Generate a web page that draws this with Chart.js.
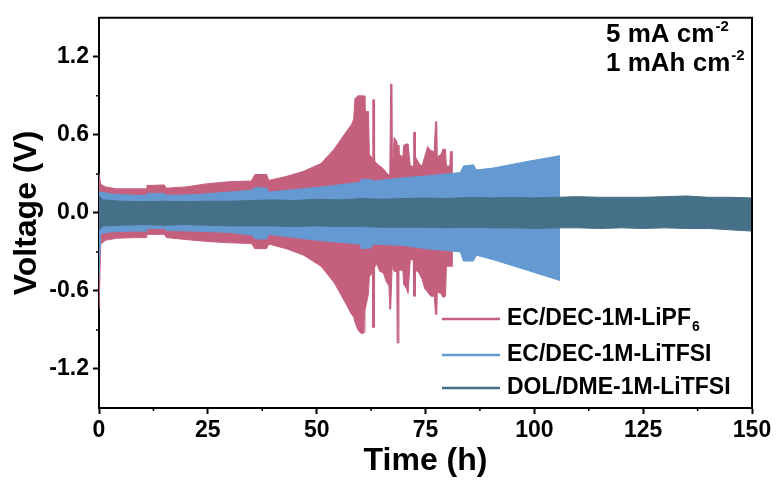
<!DOCTYPE html>
<html lang="en">
<head>
<meta charset="UTF-8">
<title>Voltage vs Time</title>
<script src="https://cdn.jsdelivr.net/npm/chart.js@4.4.1/dist/chart.umd.min.js"></script>
<style>
    html, body { margin: 0; padding: 0; background: #fff; }
    .chart-box { width: 776px; height: 483px; position: relative; }
</style>
</head>
<body>
<div class="chart-box"><canvas id="myChart"></canvas></div>
<script>
// Подписи осей
const xTicks = [0, 25, 50, 75, 100, 125, 150];
const yTicks = [-1.2, -0.6, 0, 0.6, 1.2];

const seriesNames = ['EC/DEC-1M-LiPF', 'EC/DEC-1M-LiTFSI', 'DOL/DME-1M-LiTFSI'];

// EC/DEC-1M-LiPF6 — огибающая (верх / низ)
const lipf6Time = [0, 0.4, 1.5, 4, 8, 10.8, 11, 15, 15.5, 20, 25, 30, 35, 35.8, 38.5, 39, 43, 47, 51, 54, 56.5, 58,
    58.5, 58.8, 59.5, 60.3, 60.9, 61.1, 61.9, 62.1, 62.8, 62.9, 63.2, 63.3, 63.8, 64.5, 65.3, 66.0, 66.6, 66.8,
    67.0, 67.3, 67.4, 67.8, 68.4, 68.5, 68.8, 68.9, 69.8, 70.0, 70.6, 71.0, 71.5, 72.2, 72.3, 72.6, 72.7, 73.5,
    74.2, 74.8, 75.5, 76.2, 77.0, 77.3, 77.6, 77.7, 78.6, 79.0, 79.6, 79.8, 80.6, 80.7, 81.3];
const lipf6Upper = [0.30, 0.22, 0.20, 0.185, 0.185, 0.185, 0.21, 0.215, 0.19, 0.20, 0.225, 0.24, 0.245, 0.295, 0.295, 0.25, 0.28, 0.32, 0.38, 0.49, 0.61, 0.68,
    0.72, 0.88, 0.90, 0.90, 0.90, 0.78, 0.78, 0.45, 0.42, 0.87, 0.87, 0.40, 0.38, 0.36, 0.34, 0.31, 0.29, 0.30,
    0.99, 0.99, 0.32, 0.58, 0.55, 0.52, 0.52, 0.45, 0.43, 0.52, 0.53, 0.53, 0.36, 0.36, 0.62, 0.62, 0.43, 0.38,
    0.36, 0.43, 0.51, 0.48, 0.47, 0.70, 0.70, 0.43, 0.45, 0.49, 0.49, 0.36, 0.36, 0.47, 0.47];
const lipf6Lower = [-0.74, -0.24, -0.21, -0.195, -0.19, -0.19, -0.165, -0.165, -0.19, -0.205, -0.22, -0.23, -0.235, -0.275, -0.275, -0.24, -0.275, -0.325, -0.41, -0.535, -0.685, -0.78,
    -0.80, -0.84, -0.90, -0.93, -0.92, -0.75, -0.62, -0.49, -0.46, -0.88, -0.88, -0.42, -0.39, -0.45, -0.46, -0.53, -0.56, -0.74,
    -0.74, -0.45, -0.40, -0.45, -0.45, -1.00, -1.00, -0.44, -0.44, -0.55, -0.58, -0.62, -0.36, -0.36, -0.64, -0.64, -0.44, -0.46,
    -0.51, -0.58, -0.61, -0.64, -0.64, -0.78, -0.78, -0.61, -0.62, -0.65, -0.64, -0.41, -0.41, -0.41, -0.41];

// EC/DEC-1M-LiTFSI
const litfsiTime = [0, 0.4, 3, 8, 10.8, 11, 15, 15.5, 22, 30, 35, 36, 38.5, 39, 45, 50, 55, 60, 60.3, 62.5, 63, 70, 75, 80, 83, 83.7, 86, 86.7, 90.6, 98.3, 105.9];
const litfsiUpper = [0.16, 0.16, 0.145, 0.135, 0.135, 0.15, 0.15, 0.135, 0.14, 0.16, 0.175, 0.195, 0.19, 0.16, 0.18, 0.196, 0.215, 0.235, 0.26, 0.255, 0.245, 0.27, 0.283, 0.30, 0.31, 0.36, 0.37, 0.33, 0.345, 0.395, 0.44];
const litfsiLower = [-0.50, -0.16, -0.145, -0.14, -0.14, -0.12, -0.12, -0.135, -0.14, -0.15, -0.17, -0.20, -0.20, -0.165, -0.19, -0.21, -0.225, -0.24, -0.275, -0.27, -0.24, -0.25, -0.275, -0.29, -0.30, -0.37, -0.37, -0.325, -0.36, -0.44, -0.52];

// DOL/DME-1M-LiTFSI
const dolTime = [0, 1, 5, 10, 15, 20, 25, 30, 35, 40, 45, 50, 55, 60, 65, 70, 75, 80, 85, 90, 95, 100, 105, 110, 115, 120, 125, 130, 135, 140, 145, 150];
const dolUpper = [0.13, 0.10, 0.09, 0.085, 0.09, 0.085, 0.09, 0.09, 0.095, 0.10, 0.095, 0.105, 0.10, 0.11, 0.105, 0.11, 0.115, 0.11, 0.12, 0.115, 0.12, 0.115, 0.12, 0.125, 0.12, 0.12, 0.12, 0.125, 0.13, 0.12, 0.12, 0.115];
const dolLower = [-0.13, -0.10, -0.095, -0.09, -0.095, -0.09, -0.095, -0.10, -0.10, -0.10, -0.105, -0.10, -0.105, -0.105, -0.11, -0.11, -0.11, -0.115, -0.11, -0.115, -0.115, -0.12, -0.115, -0.115, -0.12, -0.115, -0.12, -0.115, -0.12, -0.12, -0.13, -0.14];

const FONT = '"Liberation Sans", Arial, sans-serif';
const colors = ['#C4607E', '#6499D2', '#466F88'];

function toPoints(time, values) {
    return time.map((t, i) => ({x: t, y: values[i]}));
}

// верхняя линия заливается до нижней ('+1')
function band(label, color, time, upper, lower) {
    return [
        {label: label, data: toPoints(time, upper), borderColor: color, backgroundColor: color,
            borderWidth: 1, pointRadius: 0, tension: 0, fill: '+1'},
        {label: label + ' low', data: toPoints(time, lower), borderColor: color, backgroundColor: color,
            borderWidth: 1, pointRadius: 0, tension: 0, fill: false}
    ];
}

const frame = {
    id: 'frame',
    afterDraw(chart) {
        const {ctx, chartArea: a} = chart;
        ctx.save();
        ctx.strokeStyle = '#000';
        ctx.lineWidth = 2;
        ctx.beginPath();
        ctx.moveTo(a.left, a.top);
        ctx.lineTo(a.right, a.top);
        ctx.lineTo(a.right, a.bottom);
        ctx.stroke();

        // малые деления между основными
        const xs = chart.scales.x, ys = chart.scales.y;
        ctx.lineWidth = 1.5;
        ctx.beginPath();
        for (let i = 0; i < xTicks.length - 1; i++) {
            const px = xs.getPixelForValue((xTicks[i] + xTicks[i + 1]) / 2);
            ctx.moveTo(px, a.bottom);
            ctx.lineTo(px, a.bottom + 3);
        }
        for (let i = 0; i < yTicks.length - 1; i++) {
            const py = ys.getPixelForValue((yTicks[i] + yTicks[i + 1]) / 2);
            ctx.moveTo(a.left, py);
            ctx.lineTo(a.left - 3, py);
        }
        ctx.stroke();
        ctx.restore();
    }
};

const notes = {
    id: 'notes',
    afterDraw(chart) {
        const ctx = chart.ctx;
        ctx.save();
        ctx.fillStyle = '#000';
        ctx.textBaseline = 'alphabetic';

        // плотность тока / ёмкость
        const lines = ['5 mA cm', '1 mAh cm'];
        const baselines = [42, 71];
        lines.forEach((txt, i) => {
            ctx.font = 'bold 26px ' + FONT;
            ctx.fillText(txt, 606, baselines[i]);
            const w = ctx.measureText(txt).width;
            ctx.font = 'bold 15px ' + FONT;
            ctx.fillText('-2', 606 + w + 1, baselines[i] - 11);
        });

        // легенда
        const rows = [319, 355, 388];
        seriesNames.forEach((name, i) => {
            ctx.strokeStyle = colors[i];
            ctx.lineWidth = 2.5;
            ctx.beginPath();
            ctx.moveTo(442, rows[i]);
            ctx.lineTo(500, rows[i]);
            ctx.stroke();
            ctx.font = 'bold 23px ' + FONT;
            ctx.textBaseline = 'middle';
            ctx.fillText(name, 507, rows[i]);
            if (i === 0) {
                const w = ctx.measureText(name).width;
                ctx.font = 'bold 14px ' + FONT;
                ctx.fillText('6', 507 + w + 1, rows[i] + 8);
            }
        });
        ctx.restore();
    }
};

const ctx = document.getElementById('myChart');

const data = {
    datasets: [
        ...band(seriesNames[2], colors[2], dolTime, dolUpper, dolLower),
        ...band(seriesNames[1], colors[1], litfsiTime, litfsiUpper, litfsiLower),
        ...band(seriesNames[0] + '6', colors[0], lipf6Time, lipf6Upper, lipf6Lower)
    ]
};

const config = {
    type: 'line',
    data: data,
    options: {
        responsive: true,
        maintainAspectRatio: false,
        animation: false,
        devicePixelRatio: 1,
        layout: {padding: {top: 8, right: 24, left: 0, bottom: 0}},
        plugins: {
            legend: {display: false},
            tooltip: {enabled: false}
        },
        scales: {
            x: {
                type: 'linear',
                min: 0,
                max: 150,
                afterBuildTicks: (axis) => { axis.ticks = xTicks.map(v => ({value: v})); },
                afterFit: (axis) => { axis.height = 75; },
                grid: {drawOnChartArea: false, tickLength: 6, tickWidth: 2, tickColor: '#000'},
                border: {display: true, color: '#000', width: 2},
                ticks: {
                    color: '#000',
                    padding: 3,
                    maxRotation: 0,
                    font: {family: FONT, size: 23, weight: 'bold'},
                    callback: (v) => String(v)
                },
                title: {
                    display: true,
                    text: 'Time (h)',
                    color: '#000',
                    padding: {top: 0, bottom: 3},
                    font: {family: FONT, size: 32, weight: 'bold'}
                }
            },
            y: {
                min: -1.5,
                max: 1.5,
                afterBuildTicks: (axis) => { axis.ticks = yTicks.map(v => ({value: v})); },
                afterFit: (axis) => { axis.width = 99; },
                grid: {drawOnChartArea: false, tickLength: 6, tickWidth: 2, tickColor: '#000'},
                border: {display: true, color: '#000', width: 2},
                ticks: {
                    color: '#000',
                    padding: 4,
                    font: {family: FONT, size: 23, weight: 'bold'},
                    callback: (v) => Number(v).toFixed(1)
                },
                title: {
                    display: true,
                    text: 'Voltage (V)',
                    color: '#000',
                    padding: {top: 8, bottom: 0},
                    font: {family: FONT, size: 32, weight: 'bold'}
                }
            }
        }
    },
    plugins: [frame, notes]
};

new Chart(ctx, config);
</script>
</body>
</html>
